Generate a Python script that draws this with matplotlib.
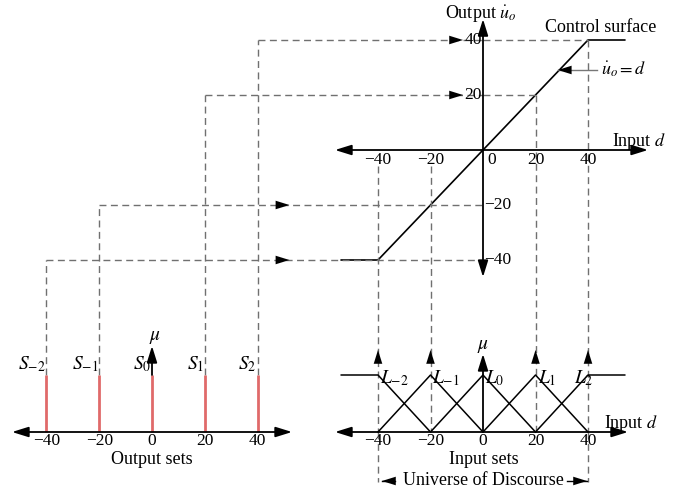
import matplotlib
matplotlib.use("Agg")
import matplotlib.pyplot as plt

plt.rcParams['font.family'] = ['Liberation Serif', 'DejaVu Serif']
plt.rcParams['mathtext.fontset'] = 'stix'

# ---------------- data ----------------
ticks = [-40, -20, 0, 20, 40]
tick_labels = ['\u221240', '\u221220', '0', '20', '40']
input_centers = [-40, -20, 0, 20, 40]
input_labels = [r'$L_{-2}$', r'$L_{-1}$', r'$L_{0}$', r'$L_{1}$', r'$L_{2}$']
output_centers = [-40, -20, 0, 20, 40]
output_heights = [1, 1, 1, 1, 1]
output_labels = [r'$S_{-2}$', r'$S_{-1}$', r'$S_{0}$', r'$S_{1}$', r'$S_{2}$']
surface_d = [-54, -40, 40, 54]
surface_u = [-40, -40, 40, 40]
shoulder_left_d = [-54, -40]
shoulder_right_d = [40, 54]

# ---------------- layout (pixel frame) ----------------
W, H = 678, 490
fig = plt.figure(figsize=(W / 100, H / 100), dpi=100)
ax = fig.add_axes([0, 0, 1, 1])
ax.set_xlim(0, W)
ax.set_ylim(H, 0)
ax.axis('off')

CX0, CY0, SX, SY = 483, 150, 2.625, 2.75      # control surface
def cx(d): return CX0 + d * SX
def cy(u): return CY0 - u * SY

OX0 = 152                                      # output sets
def ox(v): return OX0 + v * 2.64
BASE = 432                                     # baseline of both set plots
MU_H = 57                                      # membership 1 height (px)
def my(m): return BASE - m * MU_H

DASH = dict(color='#707070', lw=1.0, ls=(0, (5, 3.2)))
FS = 13
TFS = 12.5

def arrow(p_from, p_to, lw=1.3, style='-|>', ms=11):
    ax.annotate('', xy=p_to, xytext=p_from,
                arrowprops=dict(arrowstyle=style + ',head_length=0.9,head_width=0.28',
                                color='black', lw=lw, mutation_scale=ms,
                                shrinkA=0, shrinkB=0))

def head(x, y, dx, dy):
    # small filled arrowhead ending at (x, y) pointing in direction (dx, dy)
    ax.annotate('', xy=(x, y), xytext=(x - dx * 10, y - dy * 10),
                arrowprops=dict(arrowstyle='-|>,head_length=0.9,head_width=0.28',
                                color='black', lw=0.01, mutation_scale=11,
                                shrinkA=0, shrinkB=0))

# ---------------- control surface ----------------
arrow((335, CY0), (648, CY0), style='<|-|>')
arrow((CX0, cy(-46.2)), (CX0, cy(47.6)), style='<|-|>')
ax.plot([cx(d) for d in surface_d], [cy(u) for u in surface_u], color='black', lw=1.2)

for t, lab in zip(ticks, tick_labels):
    if t != 0:
        ax.text(cx(t), CY0 + 2, lab, ha='center', va='top', fontsize=TFS)
ax.text(CX0 + 4, CY0 + 2, '0', ha='left', va='top', fontsize=TFS)
for t, lab in zip(ticks, tick_labels):
    if t > 0:
        ax.text(CX0 - 1, cy(t), lab, ha='right', va='center', fontsize=TFS)
    elif t < 0:
        ax.text(CX0 + 1, cy(t), lab, ha='left', va='center', fontsize=TFS)

ax.text(CX0 - 2, 14, r'Output $\dot{u}_o$', ha='center', va='center', fontsize=FS)
ax.text(545, 27, 'Control surface', ha='left', va='center', fontsize=FS)
ax.text(601, 69, r'$\dot{u}_o = d$', ha='left', va='center', fontsize=FS)
ax.plot([cx(28.5), 597], [70, 70], color='#777777', lw=1.0)
head(cx(28.5), 70, -1, 0)
ax.text(612, 141, r'Input $d$', ha='left', va='center', fontsize=FS)

# ---------------- dashed projections ----------------
for v in output_centers:
    if v == 0:
        continue
    yv = cy(v)
    ax.plot([ox(v), ox(v)], [my(1), yv], **DASH)
    ax.plot([ox(v), CX0], [yv, yv], **DASH)
    if v > 0:
        ax.plot([CX0, cx(v)], [yv, yv], **DASH)
        ax.plot([cx(v), cx(v)], [yv, BASE], **DASH)
        head(CX0 - 20, yv, 1, 0)
    else:
        ax.plot([cx(v), cx(v)], [CY0 + 16, BASE], **DASH)
        head(ox(-40) + 243, yv, 1, 0)

for d in input_centers:
    if d != 0:
        head(cx(d), 350, 0, -1)
# universe of discourse extension
for d in (-40, 40):
    ax.plot([cx(d), cx(d)], [BASE, 482], **DASH)

# ---------------- input sets ----------------
arrow((335, BASE), (628, BASE), style='<|-|>')
arrow((CX0, BASE), (CX0, 354))
for i, c in enumerate(input_centers):
    if i == 0:
        xs, ys = [cx(shoulder_left_d[0]), cx(c), cx(input_centers[1])], [my(1), my(1), my(0)]
    elif i == len(input_centers) - 1:
        xs, ys = [cx(input_centers[-2]), cx(c), cx(shoulder_right_d[1])], [my(0), my(1), my(1)]
    else:
        xs, ys = [cx(input_centers[i - 1]), cx(c), cx(input_centers[i + 1])], [my(0), my(1), my(0)]
    ax.plot(xs, ys, color='black', lw=1.1)
    ax.text(cx(c) + (2 if i < 4 else -14), my(1) + 3, input_labels[i], ha='left', va='center',
            fontsize=FS + 1)
for t, lab in zip(ticks, tick_labels):
    ax.text(cx(t), BASE + 1, lab, ha='center', va='top', fontsize=TFS)
ax.text(CX0, 346, r'$\mu$', ha='center', va='center', fontsize=FS + 1)
ax.text(cx(46), 423, r'Input $d$', ha='left', va='center', fontsize=FS)
ax.text(484, 459, 'Input sets', ha='center', va='center', fontsize=FS)
ax.text(483, 480, 'Universe of Discourse', ha='center', va='center', fontsize=FS)
ax.plot([cx(-40) + 4, cx(-40) + 17], [481, 481], color='black', lw=1)
head(cx(-40) + 4, 481, -1, 0)
ax.plot([cx(40) - 21, cx(40) - 1], [481, 481], color='black', lw=1)
head(cx(40) - 1, 481, 1, 0)

# ---------------- output sets ----------------
arrow((12, BASE), (292, BASE), style='<|-|>')
ax.vlines([ox(v) for v in output_centers], BASE, [my(h) for h in output_heights],
          color='#e06a6a', lw=2.0)
arrow((OX0, my(1)), (OX0, 346))
for v, lab in zip(output_centers, output_labels):
    ax.text(ox(v) - 1, 364, lab, ha='right', va='center', fontsize=FS + 1)
for t, lab in zip(ticks, tick_labels):
    ax.text(ox(t), BASE + 1, lab, ha='center', va='top', fontsize=TFS)
ax.text(OX0 + 3, 337, r'$\mu$', ha='center', va='center', fontsize=FS + 1)
ax.text(OX0, 459, 'Output sets', ha='center', va='center', fontsize=FS)

fig.savefig('out.png', dpi=100)
